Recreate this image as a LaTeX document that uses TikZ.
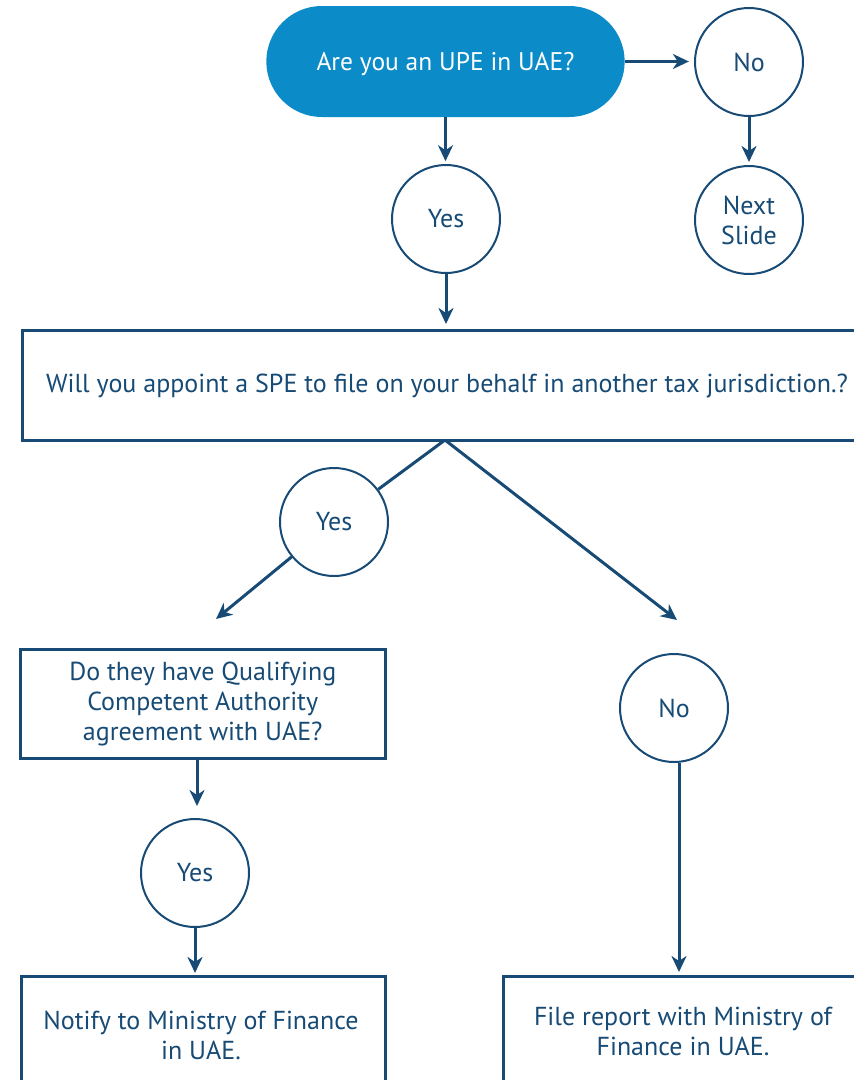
\documentclass[tikz,border=0pt]{standalone}
\usepackage{fontspec}
\setmainfont{PT Sans}
\usetikzlibrary{arrows.meta,shapes.misc}
\definecolor{navy}{HTML}{174B75}
\definecolor{blue}{HTML}{0B8BC7}
\begin{document}
\begin{tikzpicture}[x=1pt,y=-1pt,
  txt/.style={text=navy,font=\fontsize{26}{30}\selectfont,align=center},
  circ/.style={circle,draw=navy,line width=2pt,minimum size=108pt,inner sep=0pt,txt},
  boxx/.style={draw=navy,line width=2.5pt,txt},
  conn/.style={draw=navy,line width=3pt},
  arr/.style={conn,-{Stealth[length=16pt,width=15pt,inset=5pt]}}]
\useasboundingbox (0,0) rectangle (854,1080);
\node[rounded rectangle,fill=blue,minimum width=365pt,minimum height=111pt] (upe) at (445.5,61.5) {};
\node[text=white,font=\fontsize{25.5}{30}\selectfont] at (445.5,64) {Are you an UPE in UAE?};
\node[circ] (no1) at (749,62) {No};
\node[circ] (next) at (749,220) {Next\\Slide};
\node[circ] (yes1) at (446,219) {Yes};
\node[boxx,minimum width=860pt,minimum height=110pt,anchor=north west] (spe) at (21,329) {};
\node[txt] at (447,386) {Will you appoint a SPE to file on your behalf in another tax jurisdiction.?};
\node[circ] (yes2) at (334,522) {Yes};
\node[boxx,minimum width=365pt,minimum height=109pt,anchor=north west] (qca) at (19,648) {Do they have Qualifying\\Competent Authority\\agreement with UAE?};
\node[circ] (yes3) at (195,873) {Yes};
\node[circ] (no2) at (674,708) {No};
\node[boxx,minimum width=364pt,minimum height=130pt,anchor=north west] (notify) at (20,975) {};
\node[txt] at (201,1035) {Notify to Ministry of Finance\\in UAE.};
\node[boxx,minimum width=380pt,minimum height=130pt,anchor=north west] (file) at (502,975) {};
\node[txt] at (683,1031) {File report with Ministry of\\Finance in UAE.};
\coordinate (split) at (445,440);
\coordinate (tipL) at (216,619);
\coordinate (tipR) at (677,620);
\draw[arr] (upe.east) -- ++(64,0);
\draw[arr] (no1.south) -- ++(0,45);
\draw[arr] (upe.south) -- ++(0,44);
\draw[arr] (yes1.south) -- ++(0,50);
\draw[conn] (split) -- (yes2);
\draw[arr] (yes2) -- (tipL);
\draw[arr] (split) -- (tipR);
\draw[arr] (197,757) -- ++(0,49);
\draw[arr] (yes3.south) -- ++(0,45);
\draw[arr] (no2.south) ++(5,0) -- (679,972);
\end{tikzpicture}
\end{document}
